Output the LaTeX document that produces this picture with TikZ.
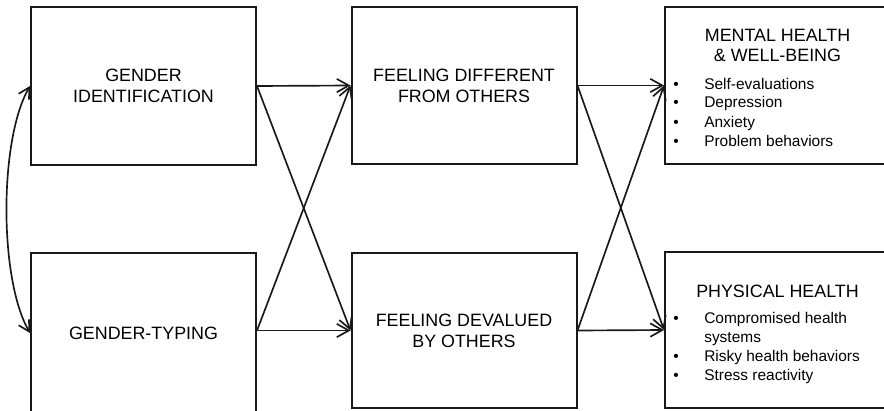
\documentclass[tikz,border=0pt]{standalone}
\usepackage{fontspec}
\setmainfont{Liberation Sans}
\usetikzlibrary{arrows.meta}

\newcommand{\itembul}{\makebox[23.25pt][l]{\textbullet}}
\newcommand{\itemgap}{\makebox[23.25pt]{}}

\begin{document}
\begin{tikzpicture}[x=0.75pt,y=0.75pt,yscale=-1,
  box/.style={draw=black!90, line width=1.5pt, inner sep=0pt, minimum width=168.75pt, align=center,
    font=\fontsize{13.4}{15.75}\selectfont},
  title/.style={inner sep=0pt, align=center, font=\fontsize{13.4}{15}\selectfont},
  items/.style={inner sep=0pt, align=left, font=\fontsize{11.6}{14.25}\selectfont},
  link/.style={draw=black!90, line width=1.25pt, -{Straight Barb[length=9pt,width=10pt,line width=1.25pt]}},
  twoway/.style={draw=black!90, line width=1.25pt, {Straight Barb[length=8pt,width=9pt,line width=1.25pt]}-{Straight Barb[length=8pt,width=9pt,line width=1.25pt]}}]
\clip (0,0) rectangle (884,410);

%Shape: Rectangle [left column]
\node[box, minimum height=117.75pt] (gid) at (143.5,86) {GENDER\\IDENTIFICATION};
\node[box, minimum height=120pt] (gty) at (143.5,333) {GENDER-TYPING};
%Shape: Rectangle [middle column]
\node[box, minimum height=117.75pt] (fdo) at (464,85.5) {FEELING DIFFERENT\\FROM OTHERS};
\node[box, minimum height=116.25pt] (fdv) at (464,330.5) {FEELING DEVALUED\\BY OTHERS};
%Shape: Rectangle [right column]
\node[box, minimum height=117.75pt] (mh) at (777.5,85.5) {};
\node[box, minimum height=117pt] (ph) at (777.5,330) {};

% Text Node
\node[title, anchor=base] (mht) at (777.5,62) {MENTAL HEALTH\\\& WELL-BEING};
% Text Node
\node[items, anchor=base west] (mhl) at (673,146) {\itembul Self-evaluations\\\itembul Depression\\\itembul Anxiety\\\itembul Problem behaviors};
% Text Node
\node[title, anchor=base] (pht) at (777.5,297) {PHYSICAL HEALTH};
% Text Node
\node[items, anchor=base west] (phl) at (673,380) {\itembul Compromised health\\\itemgap systems\\\itembul Risky health behaviors\\\itembul Stress reactivity};

%Straight Lines
\coordinate (gtyout) at (gty.east |- fdv.west);
\draw[link] (gid.east) -- (fdo.west);
\draw[link] (gid.east) -- (fdv.west);
\draw[link] (gtyout) -- (fdo.west);
\draw[link] (gtyout) -- (fdv.west);
\draw[link] (fdo.east) -- (mh.west);
\draw[link] (fdo.east) -- (ph.west);
\draw[link] (fdv.east) -- (mh.west);
\draw[link] (fdv.east) -- (ph.west);
%Curve Lines
\draw[twoway] (gid.west) .. controls +(-31,54) and +(-31,-54) .. (gty.west);

\end{tikzpicture}
\end{document}
